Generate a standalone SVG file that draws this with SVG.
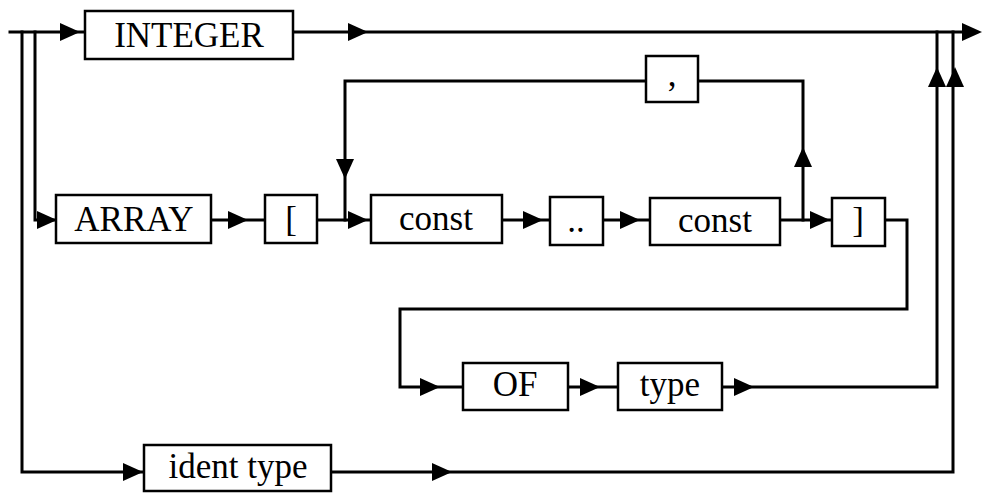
<svg xmlns="http://www.w3.org/2000/svg" xmlns:xlink="http://www.w3.org/1999/xlink" width="982" height="493" viewBox="0 0 982 493">
<style>
.box{fill:#fff;stroke:#000;stroke-width:2.5}
.ln{fill:none;stroke:#000;stroke-width:3;stroke-linejoin:miter;stroke-linecap:square}
.t{font-family:"Liberation Serif","Times New Roman",serif;font-size:35px;fill:#000;text-anchor:middle}
</style>
<defs>
<path id="ah" d="M0,0 L-20,-9 L-20,9 Z" fill="#000"/>
</defs>
<rect width="982" height="493" fill="#fff"/>
<g id="connectors">
<path class="ln" d="M10,32 H968"/>
<path class="ln" d="M22,32 V472 H953 V32"/>
<path class="ln" d="M35,32 V220 H56"/>
<path class="ln" d="M211,220 H265"/>
<path class="ln" d="M317,220 H371"/>
<path class="ln" d="M502,220 H550"/>
<path class="ln" d="M603,220 H650"/>
<path class="ln" d="M780,220 H832"/>
<path class="ln" d="M803,220 V81 H698"/>
<path class="ln" d="M646,81 H345 V220"/>
<path class="ln" d="M885,220 H907 V309 H400 V387 H463"/>
<path class="ln" d="M568,387 H618"/>
<path class="ln" d="M722,387 H937 V32"/>
<use xlink:href="#ah" transform="translate(80,32)"/>
<use xlink:href="#ah" transform="translate(368,32)"/>
<use xlink:href="#ah" transform="translate(982,32)"/>
<use xlink:href="#ah" transform="translate(57,220)"/>
<use xlink:href="#ah" transform="translate(248,220)"/>
<use xlink:href="#ah" transform="translate(368,220)"/>
<use xlink:href="#ah" transform="translate(543,220)"/>
<use xlink:href="#ah" transform="translate(640,220)"/>
<use xlink:href="#ah" transform="translate(830,220)"/>
<use xlink:href="#ah" transform="translate(803,147) rotate(-90)"/>
<use xlink:href="#ah" transform="translate(345,179) rotate(90)"/>
<use xlink:href="#ah" transform="translate(440,387)"/>
<use xlink:href="#ah" transform="translate(600,387)"/>
<use xlink:href="#ah" transform="translate(754,387)"/>
<use xlink:href="#ah" transform="translate(937,67) rotate(-90)"/>
<use xlink:href="#ah" transform="translate(955,67) rotate(-90)"/>
<use xlink:href="#ah" transform="translate(143,472)"/>
<use xlink:href="#ah" transform="translate(452,472)"/>
</g>
<g id="integer"><rect class="box" x="85" y="11" width="208" height="48"/><text class="t" x="189" y="47">INTEGER</text></g>
<g id="comma"><rect class="box" x="646" y="56" width="52" height="46"/><text class="t" x="672" y="86">,</text></g>
<g id="array"><rect class="box" x="56" y="195" width="155" height="48"/><text class="t" x="134" y="231">ARRAY</text></g>
<g id="lbracket"><rect class="box" x="265" y="195" width="52" height="48"/><text class="t" x="291" y="231">[</text></g>
<g id="const1"><rect class="box" x="371" y="195" width="131" height="48"/><text class="t" x="436" y="230">const</text></g>
<g id="dotdot"><rect class="box" x="550" y="197" width="53" height="48"/><text class="t" x="576" y="232">..</text></g>
<g id="const2"><rect class="box" x="650" y="198" width="130" height="47"/><text class="t" x="715" y="232">const</text></g>
<g id="rbracket"><rect class="box" x="832" y="198" width="53" height="48"/><text class="t" x="858" y="232">]</text></g>
<g id="of"><rect class="box" x="463" y="363" width="105" height="47"/><text class="t" x="515" y="396">OF</text></g>
<g id="type"><rect class="box" x="618" y="363" width="104" height="47"/><text class="t" x="670" y="396">type</text></g>
<g id="identtype"><rect class="box" x="144" y="445" width="187" height="46"/><text class="t" x="238" y="478">ident type</text></g>
</svg>
